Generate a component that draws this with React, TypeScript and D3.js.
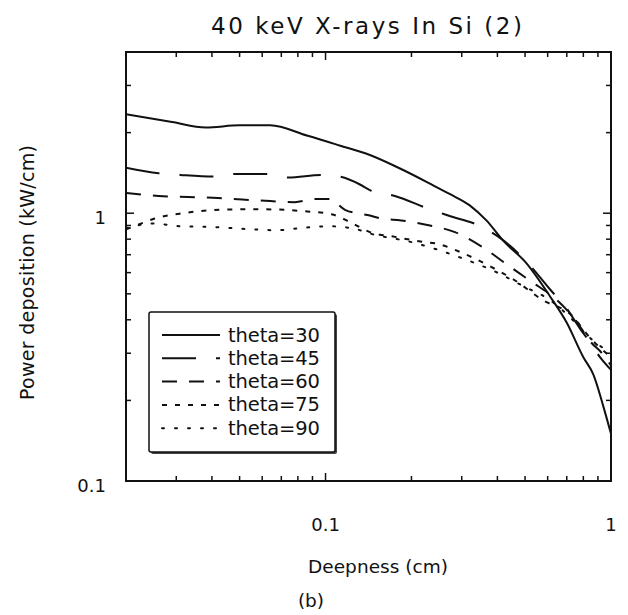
import React from "react";
import * as d3 from "d3";

const W = 628;
const H = 615;

const titleText = "40 keV X-rays In Si (2)";
const xLabelText = "Deepness (cm)";
const yLabelText = "Power deposition (kW/cm)";
const captionText = "(b)";

const xDomain = [0.02, 1];
const yDomain = [0.1, 4];
const xMajorTicks = [0.1, 1];
const xMajorLabels = ["0.1", "1"];
const yMajorTicks = [0.1, 1];
const yMajorLabels = ["0.1", "1"];
const xMinorTicks = [0.03, 0.04, 0.05, 0.06, 0.07, 0.08, 0.09, 0.2, 0.3, 0.4, 0.5, 0.6, 0.7, 0.8, 0.9];
const yMinorTicks = [0.2, 0.3, 0.4, 0.5, 0.6, 0.7, 0.8, 0.9, 2, 3];

const seriesNames = ["theta=30", "theta=45", "theta=60", "theta=75", "theta=90"];

const theta30: [number, number][] = [
  [0.02, 2.34], [0.029, 2.19], [0.038, 2.09], [0.05, 2.13], [0.064, 2.13], [0.086, 1.95],
  [0.112, 1.79], [0.143, 1.65], [0.187, 1.45], [0.232, 1.29], [0.272, 1.18], [0.32, 1.07],
  [0.366, 0.94], [0.419, 0.79], [0.506, 0.65], [0.611, 0.49], [0.7, 0.39], [0.8, 0.29],
  [0.867, 0.25], [0.94, 0.19], [1.0, 0.15],
];
const theta45: [number, number][] = [
  [0.02, 1.48], [0.026, 1.41], [0.031, 1.39], [0.041, 1.37], [0.048, 1.4], [0.063, 1.4],
  [0.074, 1.36], [0.097, 1.39], [0.112, 1.37], [0.132, 1.28], [0.143, 1.22], [0.175, 1.16],
  [0.229, 1.04], [0.269, 0.98], [0.352, 0.89], [0.414, 0.8], [0.506, 0.66], [0.611, 0.52],
  [0.7, 0.44], [0.78, 0.37], [0.844, 0.33], [0.915, 0.29], [1.0, 0.26],
];
const theta60: [number, number][] = [
  [0.02, 1.19], [0.026, 1.16], [0.033, 1.15], [0.042, 1.14], [0.051, 1.125], [0.064, 1.11],
  [0.078, 1.1], [0.092, 1.13], [0.103, 1.13], [0.117, 1.03], [0.143, 0.98], [0.157, 0.955],
  [0.184, 0.94], [0.232, 0.9], [0.284, 0.85], [0.353, 0.75], [0.435, 0.64], [0.52, 0.56],
  [0.652, 0.47], [0.75, 0.4], [0.85, 0.33], [0.93, 0.3], [1.0, 0.27],
];
const theta75: [number, number][] = [
  [0.02, 0.87], [0.0223, 0.91], [0.0252, 0.955], [0.0284, 0.983], [0.0317, 1.0], [0.0357, 1.017],
  [0.0443, 1.032], [0.055, 1.035], [0.0681, 1.032], [0.0846, 1.017], [0.105, 0.991],
  [0.122, 0.926], [0.143, 0.85], [0.175, 0.816], [0.219, 0.782], [0.245, 0.77], [0.303, 0.709],
  [0.37, 0.64], [0.46, 0.562], [0.578, 0.473], [0.72, 0.42], [0.85, 0.34], [1.0, 0.29],
];
const theta90: [number, number][] = [
  [0.02, 0.879], [0.0248, 0.915], [0.0312, 0.894], [0.0393, 0.889], [0.0542, 0.872],
  [0.0672, 0.864], [0.0834, 0.882], [0.1034, 0.894], [0.128, 0.872], [0.143, 0.84],
  [0.2, 0.78], [0.3, 0.68], [0.4, 0.6], [0.5, 0.53], [0.6, 0.48], [0.7, 0.42], [0.85, 0.34],
  [1.0, 0.3],
];

const seriesData = [theta30, theta45, theta60, theta75, theta90];
const dashes = ["none", "34 20", "15 12", "5 8", "2 11"];

const FONT = "DejaVu Sans, Verdana, sans-serif";

export default function App() {
  const left = 126, right = 611, top = 52, bottom = 481;
  const x = d3.scaleLog().domain(xDomain).range([left, right]);
  const y = d3.scaleLog().domain(yDomain).range([bottom, top]);
  const line = d3
    .line<[number, number]>()
    .x((d) => x(d[0]))
    .y((d) => y(d[1]))
    .curve(d3.curveMonotoneX);

  const majorLen = 8;
  const minorLen = 5;

  const legX = 149, legY = 312, legW = 186, legH = 140;
  const legRow0 = 335, legStep = 23.3;

  return (
    <svg
      width={W}
      height={H}
      style={{ position: "absolute", left: 0, top: 0, background: "#fff" }}
      fontFamily={FONT}
    >
      <rect x={0} y={0} width={W} height={H} fill="#fff" />
      <text x={211} y={26} dominantBaseline="central" fontSize={23} fill="#111"
        textLength={311} lengthAdjust="spacing">
        {titleText}
      </text>

      <defs>
        <clipPath id="plotclip">
          <rect x={left} y={top} width={right - left} height={bottom - top} />
        </clipPath>
      </defs>

      <g clipPath="url(#plotclip)">
        {seriesData.map((d, i) => (
          <path
            key={i}
            d={line(d) || ""}
            fill="none"
            stroke="#111"
            strokeWidth={2}
            strokeDasharray={dashes[i]}
            strokeLinecap={i === 4 ? "round" : "butt"}
          />
        ))}
      </g>

      {xMinorTicks.map((t) => (
        <g key={"xm" + t}>
          <line x1={x(t)} x2={x(t)} y1={bottom} y2={bottom - minorLen} stroke="#111" strokeWidth={1.5} />
          <line x1={x(t)} x2={x(t)} y1={top} y2={top + minorLen} stroke="#111" strokeWidth={1.5} />
        </g>
      ))}
      {xMajorTicks.map((t) => (
        <g key={"xM" + t}>
          <line x1={x(t)} x2={x(t)} y1={bottom} y2={bottom - majorLen} stroke="#111" strokeWidth={1.5} />
          <line x1={x(t)} x2={x(t)} y1={top} y2={top + majorLen} stroke="#111" strokeWidth={1.5} />
        </g>
      ))}
      {yMinorTicks.map((t) => (
        <g key={"ym" + t}>
          <line x1={left} x2={left + minorLen} y1={y(t)} y2={y(t)} stroke="#111" strokeWidth={1.5} />
          <line x1={right} x2={right - minorLen} y1={y(t)} y2={y(t)} stroke="#111" strokeWidth={1.5} />
        </g>
      ))}
      {yMajorTicks.map((t) => (
        <g key={"yM" + t}>
          <line x1={left} x2={left + majorLen} y1={y(t)} y2={y(t)} stroke="#111" strokeWidth={1.5} />
          <line x1={right} x2={right - majorLen} y1={y(t)} y2={y(t)} stroke="#111" strokeWidth={1.5} />
        </g>
      ))}

      <rect x={left} y={top} width={right - left} height={bottom - top} fill="none" stroke="#111" strokeWidth={2} />

      {xMajorTicks.map((t, i) => (
        <text key={"xl" + t} x={x(t)} y={524} textAnchor="middle" dominantBaseline="central" fontSize={18} fill="#111">
          {xMajorLabels[i]}
        </text>
      ))}
      {yMajorTicks.map((t, i) => (
        <text key={"yl" + t} x={106} y={y(t) + 4} textAnchor="end" dominantBaseline="central" fontSize={18} fill="#111">
          {yMajorLabels[i]}
        </text>
      ))}

      <text x={308} y={566} dominantBaseline="central" fontSize={18.5} fill="#111"
        textLength={140} lengthAdjust="spacing">
        {xLabelText}
      </text>
      <text
        transform={`translate(27,400) rotate(-90)`}
        dominantBaseline="central"
        fontSize={19}
        fill="#111"
        textLength={255}
        lengthAdjust="spacing"
      >
        {yLabelText}
      </text>
      <text x={311} y={600} textAnchor="middle" dominantBaseline="central" fontSize={18.5} fill="#111">
        {captionText}
      </text>

      <rect x={legX + 2} y={legY + 2} width={legW} height={legH} rx={2} fill="#444" />
      <rect x={legX} y={legY} width={legW} height={legH} rx={2} fill="#fff" stroke="#111" strokeWidth={1.5} />
      {seriesNames.map((name, i) => {
        const yy = legRow0 + i * legStep;
        return (
          <g key={name}>
            <line
              x1={162}
              x2={220}
              y1={yy}
              y2={yy}
              stroke="#111"
              strokeWidth={2}
              strokeDasharray={dashes[i]}
              strokeLinecap={i === 4 ? "round" : "butt"}
            />
            <text x={228} y={yy} dominantBaseline="central" fontSize={19.5} fill="#111"
              textLength={92} lengthAdjust="spacing">
              {name}
            </text>
          </g>
        );
      })}
    </svg>
  );
}
